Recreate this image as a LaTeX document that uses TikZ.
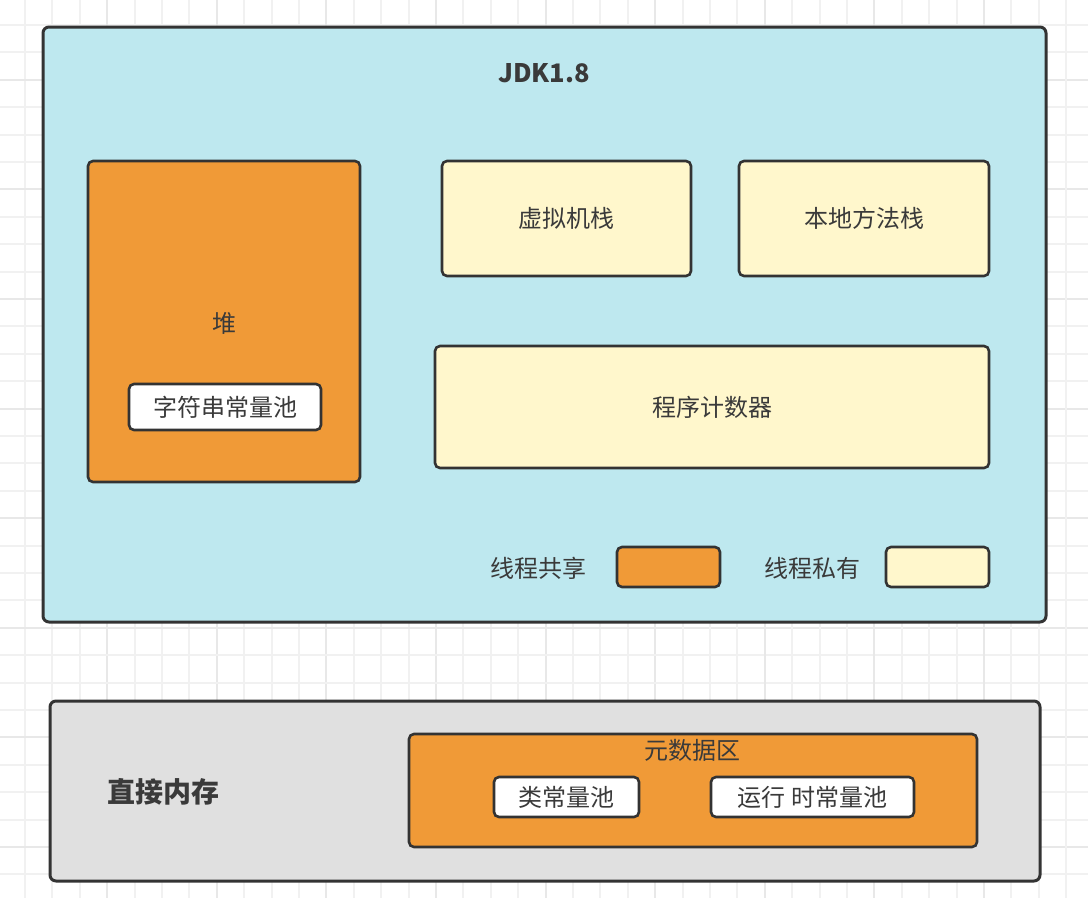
\documentclass[tikz,border=0pt]{standalone}
\usepackage{fontspec}
\setmainfont{Noto Sans CJK SC}
\definecolor{gridminor}{HTML}{F1F1F1}
\definecolor{gridmajor}{HTML}{E8E8E8}
\definecolor{jdkblue}{HTML}{BEE8EF}
\definecolor{heaporange}{HTML}{F09A37}
\definecolor{privcream}{HTML}{FFF7CC}
\definecolor{directgray}{HTML}{E0E0E0}
\definecolor{edge}{HTML}{333333}
\definecolor{txt}{HTML}{3A3A3A}
\tikzset{
  region/.style={draw=edge, line width=3pt, rounded corners=6pt},
  cell/.style={draw=edge, line width=2.6pt, rounded corners=5pt},
  lbl/.style={text=txt, font=\fontsize{24}{28}\selectfont, inner sep=0pt},
  titlelbl/.style={text=txt, font=\fontsize{25.5}{30}\selectfont\bfseries, inner sep=0pt},
  boldlbl/.style={text=txt, font=\fontsize{28}{32}\selectfont\bfseries, inner sep=0pt},
}
\begin{document}
\begin{tikzpicture}[x=1pt,y=-1pt]
\useasboundingbox (0,0) rectangle (1088,898);
\fill[white] (0,0) rectangle (1088,898);
% grid
\foreach \k in {-1,...,40}{
  \pgfmathsetmacro{\p}{25+27.4*\k}
  \pgfmathtruncatemacro{\mv}{mod(\k+5,4)}
  \pgfmathtruncatemacro{\mh}{mod(\k+6,4)}
  \ifnum\mv=0 \draw[gridmajor,line width=2pt] (\p,0) -- (\p,898);
  \else \draw[gridminor,line width=2pt] (\p,0) -- (\p,898); \fi
  \ifnum\mh=0 \draw[gridmajor,line width=2pt] (0,\p) -- (1088,\p);
  \else \draw[gridminor,line width=2pt] (0,\p) -- (1088,\p); \fi
}
% JDK1.8 region
\path[region, fill=jdkblue] (43,27) rectangle (1046,622);
\node[titlelbl] (title) at (544,73) {JDK1.8};
% heap
\path[cell, fill=heaporange] (88,161) rectangle (360,482);
\node[lbl] (heap) at (224,323) {堆};
\node[cell, fill=white, minimum width=192pt, minimum height=46pt] (strpool) at (225,407) {};
\node[lbl] at (strpool) {字符串常量池};
% private areas
\node[cell, fill=privcream, minimum width=249pt, minimum height=115pt] (vmstack) at (566.5,218.5) {};
\node[lbl] at (vmstack) {虚拟机栈};
\node[cell, fill=privcream, minimum width=250pt, minimum height=115pt] (nstack) at (864,218.5) {};
\node[lbl] at (nstack) {本地方法栈};
\node[cell, fill=privcream, minimum width=554pt, minimum height=122pt] (pc) at (712,407) {};
\node[lbl] at (pc) {程序计数器};
% legend
\node[lbl] (sharedtxt) at (538,568) {线程共享};
\node[cell, fill=heaporange, minimum width=103pt, minimum height=40pt] (sharedbox) at (668.5,567) {};
\node[lbl] (privtxt) at (812,568) {线程私有};
\node[cell, fill=privcream, minimum width=103pt, minimum height=40pt] (privbox) at (937.5,567) {};
% direct memory
\path[region, fill=directgray] (50,701) rectangle (1040,881);
\node[boldlbl] (direct) at (163.5,792) {直接内存};
\node[cell, fill=heaporange, minimum width=568pt, minimum height=113pt] (meta) at (693,790.5) {};
\node[lbl] (metatxt) at (692,750) {元数据区};
\node[cell, fill=white, minimum width=145pt, minimum height=40pt] (classpool) at (566.5,797) {};
\node[lbl] at (classpool) {类常量池};
\node[cell, fill=white, minimum width=203pt, minimum height=40pt] (rtpool) at (812.5,797) {};
\node[lbl] at (rtpool) {运行 时常量池};
\end{tikzpicture}
\end{document}
